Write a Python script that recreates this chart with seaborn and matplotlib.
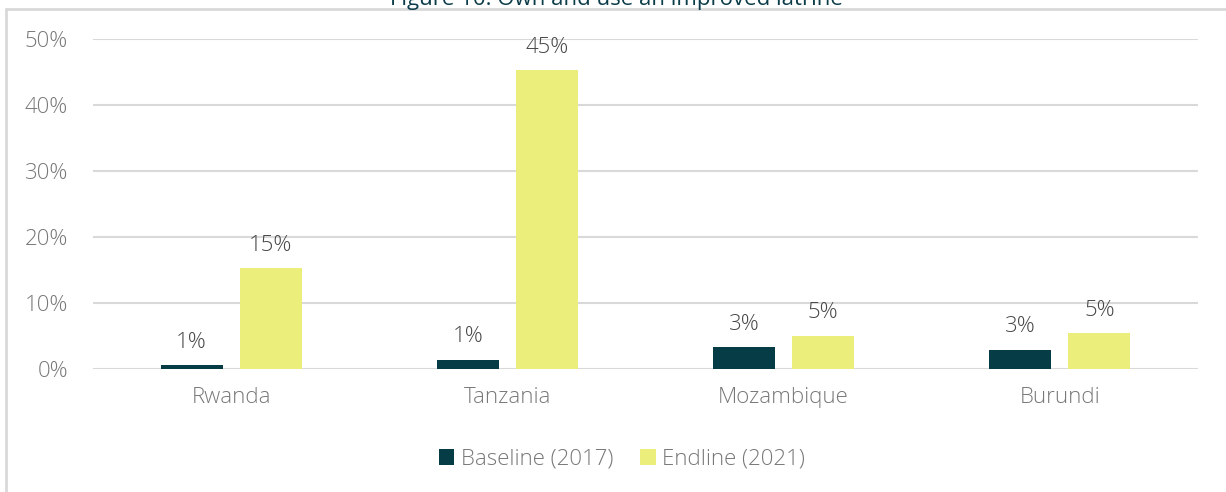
import pandas as pd
import numpy as np
import matplotlib.pyplot as plt
import seaborn as sns
from matplotlib.lines import Line2D

# data
countries = ['Rwanda', 'Tanzania', 'Mozambique', 'Burundi']
baseline = [0.006, 0.014, 0.033, 0.029]
endline = [0.153, 0.453, 0.050, 0.054]
series = ['Baseline (2017)', 'Endline (2021)']

df = pd.DataFrame({
    'Country': countries * 2,
    'Share': baseline + endline,
    'Survey': [series[0]] * 4 + [series[1]] * 4,
})

sns.set_style('white')
plt.rcParams['font.family'] = ['Open Sans', 'DejaVu Sans']

grey = '#787878'
label_grey = '#474747'
line_grey = '#d9d9d9'
colors = {series[0]: '#063c46', series[1]: '#ebee7b'}

fig = plt.figure(figsize=(12.26, 4.92), dpi=100)
ax = fig.add_axes([93 / 1226, 1 - 369 / 492, 1105 / 1226, 330 / 492])

sns.barplot(data=df, x='Country', y='Share', hue='Survey', palette=colors,
            width=0.572, gap=0.215, ax=ax, legend=True, saturation=1,
            linewidth=0)

ax.set_ylim(0, 0.5)
ax.set_xlim(-0.5, 3.5)
ax.set_yticks(np.arange(0, 0.51, 0.1))
ax.set_yticklabels([f'{int(round(t * 100))}%' for t in np.arange(0, 0.51, 0.1)])
ax.yaxis.grid(True, color=line_grey, linewidth=1.5)
ax.set_axisbelow(True)
for s in ax.spines.values():
    s.set_visible(False)
ax.tick_params(axis='y', length=0, pad=18, labelsize=16, labelcolor=grey)
ax.tick_params(axis='x', length=0, pad=13, labelsize=16, labelcolor=grey)
for lab in ax.get_xticklabels() + ax.get_yticklabels():
    lab.set_fontweight('light')
ax.set_xlabel('')
ax.set_ylabel('')

# value labels
for cont in ax.containers:
    for bar in cont:
        h = bar.get_height()
        ax.annotate(f'{int(round(h * 100))}%', (bar.get_x() + bar.get_width() / 2, h),
                    xytext=(0, 9), textcoords='offset points', ha='center', va='bottom',
                    fontsize=16, color=label_grey, fontweight='light')

leg = ax.legend(loc='center', bbox_to_anchor=(622 / 1226, 1 - 459 / 492),
                bbox_transform=fig.transFigure, ncol=2, frameon=False,
                fontsize=16, handlelength=0.7, handleheight=0.7,
                handletextpad=0.3, columnspacing=1.2)
for t in leg.get_texts():
    t.set_color(grey)
    t.set_fontweight('light')

# outer chart frame (top and left edges visible)
fig.add_artist(Line2D([6 / 1226, 6 / 1226], [0, 1 - 9 / 492], transform=fig.transFigure,
                      color=line_grey, linewidth=2))
fig.add_artist(Line2D([6 / 1226, 1], [1 - 9 / 492, 1 - 9 / 492], transform=fig.transFigure,
                      color=line_grey, linewidth=2))

# title, clipped by the top of the image as in the reference
fig.text(616 / 1226, 1 - 5 / 492, 'Figure 10: Own and use an improved latrine',
         ha='center', va='baseline', fontsize=16, color='#0b3c49')

fig.savefig('out.png', dpi=100)
